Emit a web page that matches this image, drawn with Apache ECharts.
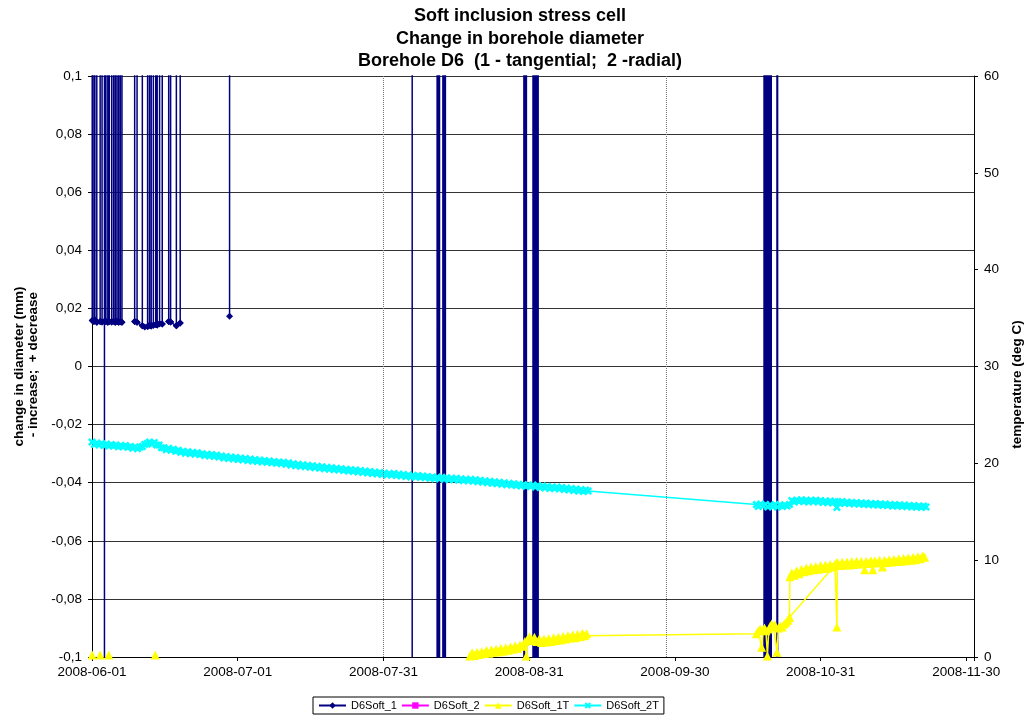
<!DOCTYPE html>
<html><head><meta charset="utf-8">
<script src="https://cdn.jsdelivr.net/npm/echarts@6/dist/echarts.min.js"></script>
<style>html,body{margin:0;padding:0;background:#fff}#c{width:1027px;height:720px}</style>
</head><body><div id="c"></div>
<script>
// x values: days since 2008-06-01
const xTickLabels = ['2008-06-01','2008-07-01','2008-07-31','2008-08-31','2008-09-30','2008-10-31','2008-11-30'];
const leftTickLabels = ['-0,1','-0,08','-0,06','-0,04','-0,02','0','0,02','0,04','0,06','0,08','0,1'];
const rightTickLabels = ['0','10','20','30','40','50','60'];
const annotationDays = [60.8, 119.8];

// D6Soft_1 (mm): out-of-range readings drawn as spikes beyond the axis
const d6Soft1 = [
 [0.05,0.0158],[0.05,9],[0.05,0.0158],
 [0.4,0.0155],[0.4,9],[0.4,0.0155],
 [0.6,0.016],[0.6,9],[0.6,0.016],
 [1.0,0.0152],[1.0,9],[1.0,0.0152],
 [1.7,0.0155],[1.7,9],[1.7,0.0155],
 [2.1,0.0153],[2.1,9],[2.1,0.0153],
 [2.6,0.0155],[2.6,-9],[2.6,0.0155],
 [2.9,0.0155],[2.9,9],[2.9,0.0155],
 [3.3,0.0152],[3.3,9],[3.3,0.0152],
 [3.6,0.0155],[3.6,9],[3.6,0.0155],
 [4.1,0.0153],[4.1,9],[4.1,0.0153],
 [4.5,0.0156],[4.5,9],[4.5,0.0156],
 [4.85,0.0152],[4.85,9],[4.85,0.0152],
 [5.2,0.0155],[5.2,9],[5.2,0.0155],
 [5.55,0.0152],[5.55,9],[5.55,0.0152],
 [5.9,0.0154],[5.9,9],[5.9,0.0154],
 [6.25,0.0152],[6.25,9],[6.25,0.0152],
 [7.5,null],
 [8.9,0.0155],[8.9,9],[8.9,0.0155],
 [9.4,0.0152],[9.4,9],[9.4,0.0152],
 [10.5,0.0140],[10.5,9],[10.5,0.0140],
 [11.0,0.0136],
 [11.6,0.0138],[11.6,9],[11.6,0.0138],
 [12.0,0.0142],[12.0,9],[12.0,0.0142],
 [12.35,0.0139],[12.35,9],[12.35,0.0139],
 [12.8,0.0142],[12.8,9],[12.8,0.0142],
 [13.3,0.0145],[13.3,9],[13.3,0.0145],
 [13.6,0.0143],[13.6,9],[13.6,0.0143],
 [14.1,0.0147],[14.1,9],[14.1,0.0147],
 [14.65,0.0146],[14.65,9],[14.65,0.0146],
 [15.3,null],
 [16.0,0.0155],[16.0,9],[16.0,0.0155],
 [16.4,0.0153],[16.4,9],[16.4,0.0153],
 [17.6,0.0140],[17.6,9],[17.6,0.0140],
 [18.4,0.0150],[18.4,9],[18.4,0.0150],
 [20,null],
 [28.7,9],[28.7,0.0173],
 [30,null],
 [66.8,9],[66.8,-9],
 [72.0,-9],[72.0,9],[72.2,9],[72.2,-9],[72.4,-9],[72.4,9],[72.6,9],[72.6,-9],
 [73.2,-9],[73.2,9],[73.4,9],[73.4,-9],[73.6,-9],[73.6,9],[73.85,9],[73.85,-9],
 [90.1,-9],[90.1,9],[90.3,9],[90.3,-9],[90.5,-9],[90.5,9],[90.75,9],[90.75,-9],
 [92.0,-9],[92.0,9],[92.2,9],[92.2,-9],[92.4,-9],[92.4,9],[92.6,9],[92.6,-9],[92.8,-9],[92.8,9],[93.0,9],[93.0,-9],[93.15,-9],[93.15,9],
 [140.2,9],[140.2,-9],[140.4,-9],[140.4,9],[140.6,9],[140.6,-9],
 [141.0,-9],[141.0,9],[141.2,9],[141.2,-9],[141.4,-9],[141.4,9],[141.6,9],[141.6,-9],[141.8,-9],[141.8,9],
 [142.9,9],[142.9,-9],[143.15,-9],[143.15,9]
];

const d6Soft2 = [];

// D6Soft_1T (deg C)
const d6Soft1T = [
 [0.04,0.2],[0.8,null],[1.7,0.2],[2.5,null],[3.5,0.2],[5,null],[13.2,0.2],[20,null],
 [78.8,0.1],[79.3,0.45],[79.8,0.15],[80.3,0.5],[80.8,0.25],[81.3,0.55],[81.8,0.35],[82.3,0.7],[82.8,0.4],
 [83.3,0.75],[83.8,0.5],[84.3,0.8],[84.8,0.55],[85.3,0.9],[85.8,0.6],[86.3,0.95],[86.8,0.7],[87.3,1.05],
 [87.8,0.8],[88.3,1.15],[88.8,0.9],[89.3,1.25],[89.8,1.1],[90.3,1.6],[90.6,0.1],[90.8,1.8],[91.3,2.1],
 [91.8,1.7],[92.3,2.05],[92.8,1.6],[93.3,1.85],[93.8,1.5],[94.3,1.85],[94.8,1.55],[95.3,1.9],[95.8,1.6],
 [96.3,2.0],[96.8,1.7],[97.3,2.05],[97.8,1.75],[98.3,2.15],[98.8,1.85],[99.3,2.2],[99.8,1.95],[100.3,2.3],
 [100.8,2.0],[101.3,2.35],[101.8,2.1],[102.3,2.45],[102.8,2.2],[103.2,2.4],
 [138.6,2.4],[139.0,2.7],[139.4,2.9],[139.7,1.0],[140.0,2.8],[140.3,3.0],[140.6,2.7],[140.9,0.1],[141.2,2.9],
 [141.5,3.2],[141.8,3.4],[142.2,3.1],[142.5,3.3],[142.9,0.5],[143.2,3.0],[143.6,3.2],[144.0,3.1],[144.4,3.4],
 [144.8,3.6],[145.2,3.8],[145.5,4.1],
 [145.6,8.3],[146.0,8.7],[146.5,8.45],[147.0,8.9],[147.5,8.6],[148.0,9.05],[148.5,8.8],[149.0,9.2],[149.5,8.9],
 [150.0,9.3],[150.5,9.0],[151.0,9.35],[151.5,9.05],[152.0,9.45],[152.5,9.15],[153.0,9.5],[153.5,9.2],[154.0,9.55],
 [154.5,9.3],[155.0,9.6],[155.3,9.5],[155.4,3.1],[155.5,9.75],[156.0,9.45],[156.5,9.8],[157.0,9.5],[157.5,9.8],
 [158.0,9.5],[158.5,9.85],[159.0,9.55],[159.5,9.9],[160.0,9.6],[160.5,9.9],[161.2,9.0],[161.5,9.9],[162.0,9.65],
 [162.5,9.95],[162.9,9.0],[163.3,9.95],[163.8,9.7],[164.3,10.0],[164.9,9.3],[165.3,10.0],[165.8,9.75],[166.3,10.05],
 [166.8,9.8],[167.3,10.1],[167.8,9.85],[168.3,10.15],[168.8,9.9],[169.3,10.2],[169.8,9.95],[170.3,10.25],
 [170.8,10.0],[171.3,10.3],[171.8,10.05],[172.3,10.35],[172.8,10.15],[173.3,10.45],[173.7,10.3],
 [174,null],[145.5,4.1],[155.4,9.7]
];

// D6Soft_2T (deg C)
const d6Soft2T = [
 [0,22.2],[0.5,21.95],[1,22.1],[1.5,21.9],[2,22.05],[2.5,21.85],[3,22.0],[3.5,21.8],[4,21.95],[4.5,21.8],
 [5,21.9],[5.5,21.7],[6,21.85],[6.5,21.7],[7,21.85],[7.5,21.65],[8,21.75],[8.5,21.55],[9,21.7],[9.5,21.5],
 [10,21.65],[10.5,21.75],[11,21.95],[11.5,22.05],[12,22.2],[12.5,22.0],[13,22.15],[13.5,21.9],[14,21.9],[14.5,21.6],
 [15,21.6],[15.5,21.4],[16,21.55],[16.5,21.35],[17,21.45],[17.5,21.25],[18,21.35],[18.5,21.15],[19,21.25],[19.5,21.05],
 [20,21.2],[20.5,21.0],[21,21.15],[21.5,20.95],[22,21.1],[22.5,20.9],[23,21.0],[23.5,20.8],[24,20.95],[24.5,20.75],
 [25,20.9],[25.5,20.7],[26,20.85],[26.5,20.65],[27,20.75],[27.5,20.55],[28,20.7],[28.5,20.5],[29,20.65],[29.5,20.45],
 [30,20.6],[30.5,20.4],[31,20.55],[31.5,20.35],[32,20.5],[32.5,20.3],[33,20.45],[33.5,20.25],[34,20.4],[34.5,20.2],
 [35,20.35],[35.5,20.15],[36,20.3],[36.5,20.1],[37,20.25],[37.5,20.05],[38,20.2],[38.5,20.0],[39,20.15],[39.5,19.95],
 [40,20.1],[40.5,19.9],[41,20.05],[41.5,19.8],[42,19.95],[42.5,19.75],[43,19.9],[43.5,19.7],[44,19.85],[44.5,19.65],
 [45,19.8],[45.5,19.6],[46,19.75],[46.5,19.55],[47,19.7],[47.5,19.5],[48,19.65],[48.5,19.45],[49,19.6],[49.5,19.4],
 [50,19.55],[50.5,19.35],[51,19.5],[51.5,19.3],[52,19.45],[52.5,19.25],[53,19.4],[53.5,19.2],[54,19.35],[54.5,19.15],
 [55,19.3],[55.5,19.1],[56,19.25],[56.5,19.05],[57,19.2],[57.5,19.0],[58,19.15],[58.5,18.95],[59,19.1],[59.5,18.9],
 [60,19.05],[60.5,18.85],[61,19.0],[61.5,18.8],[62,18.95],[62.5,18.8],[63,18.95],[63.5,18.75],[64,18.9],[64.5,18.7],
 [65,18.85],[65.5,18.65],[66,18.8],[66.5,18.6],[67,18.75],[67.5,18.6],[68,18.75],[68.5,18.55],[69,18.7],[69.5,18.5],
 [70,18.65],[70.5,18.45],[71,18.6],[71.5,18.4],[72,18.55],[72.5,18.4],[73,18.55],[73.5,18.35],[74,18.5],[74.5,18.3],
 [75,18.45],[75.5,18.3],[76,18.45],[76.5,18.25],[77,18.4],[77.5,18.2],[78,18.35],[78.5,18.2],[79,18.35],[79.5,18.15],
 [80,18.3],[80.5,18.1],[81,18.25],[81.5,18.05],[82,18.2],[82.5,18.0],[83,18.15],[83.5,17.95],[84,18.1],[84.5,17.9],
 [85,18.05],[85.5,17.85],[86,18.0],[86.5,17.8],[87,17.95],[87.5,17.75],[88,17.9],[88.5,17.7],[89,17.85],[89.5,17.65],
 [90,17.8],[90.5,17.6],[91,17.75],[91.5,17.6],[92,17.75],[92.5,17.55],[93,17.7],[93.5,17.5],[94,17.65],[94.5,17.45],
 [95,17.6],[95.5,17.4],[96,17.55],[96.5,17.4],[97,17.55],[97.5,17.35],[98,17.5],[98.5,17.3],[99,17.45],[99.5,17.25],
 [100,17.4],[100.5,17.2],[101,17.35],[101.5,17.15],[102,17.3],[102.5,17.1],[103,17.25],[103.5,17.15],
 [138.6,15.75],[139,15.55],[139.5,15.8],[140,15.6],[140.5,15.75],[141,15.5],[141.5,15.7],[142,15.55],[142.5,15.75],
 [143,15.5],[143.5,15.7],[144,15.55],[144.5,15.7],[145,15.6],[145.5,15.75],[146,16.15],[146.5,16.0],[147,16.2],
 [147.5,16.05],[148,16.25],[148.5,16.05],[149,16.2],[149.5,16.0],[150,16.2],[150.5,16.05],[151,16.2],[151.5,16.0],
 [152,16.15],[152.5,15.95],[153,16.1],[153.5,15.95],[154,16.1],[154.5,15.9],[155,16.05],[155.4,15.45],[155.6,16.0],
 [156,15.9],[156.5,16.05],[157,15.85],[157.5,16.0],[158,15.85],[158.5,15.95],[159,15.8],[159.5,15.95],[160,15.8],
 [160.5,15.9],[161,15.75],[161.5,15.9],[162,15.75],[162.5,15.85],[163,15.7],[163.5,15.85],[164,15.7],[164.5,15.8],
 [165,15.65],[165.5,15.8],[166,15.65],[166.5,15.75],[167,15.6],[167.5,15.75],[168,15.6],[168.5,15.7],[169,15.55],
 [169.5,15.7],[170,15.55],[170.5,15.65],[171,15.5],[171.5,15.65],[172,15.5],[172.5,15.6],[173,15.45],[173.5,15.6],[174,15.5]
];

const FONT = 'Liberation Sans, Arial, sans-serif';
const xInterval = 30.4;
const xSymbol = 'path://M0,2.2L2.2,0L5,2.8L7.8,0L10,2.2L7.2,5L10,7.8L7.8,10L5,7.2L2.2,10L0,7.8L2.8,5Z';

const chart = echarts.init(document.getElementById('c'), null, {renderer: 'canvas'});
chart.setOption({
  backgroundColor: '#ffffff',
  animation: false,
  title: {
    text: 'Soft inclusion stress cell\nChange in borehole diameter\nBorehole D6  (1 - tangential;  2 -radial)',
    left: 520, top: 5, textAlign: 'center', padding: 0,
    textStyle: {fontFamily: FONT, fontSize: 18, fontWeight: 'bold', color: '#000', lineHeight: 22.5}
  },
  legend: {
    left: 313, top: 697, padding: [3, 5], itemGap: 4, itemWidth: 27, itemHeight: 8,
    borderColor: '#000', borderWidth: 1,
    textStyle: {fontFamily: FONT, fontSize: 11, color: '#000'},
    data: ['D6Soft_1', 'D6Soft_2', 'D6Soft_1T', 'D6Soft_2T']
  },
  grid: {left: 92, right: 53, top: 76, bottom: 63, containLabel: false, outerBoundsMode: 'none'},
  xAxis: [{
    type: 'value', min: 0, max: 184, interval: xInterval,
    axisLine: {onZero: false, lineStyle: {color: '#000', width: 1}},
    axisTick: {show: true, length: 4, lineStyle: {color: '#000'}},
    splitLine: {show: false},
    axisLabel: {
      fontFamily: FONT, fontSize: 13.5, color: '#000', margin: 8,
      formatter: function (v) {
        const i = Math.round(v / xInterval);
        return (Math.abs(v - i * xInterval) < 0.01 && xTickLabels[i]) ? xTickLabels[i] : '';
      }
    }
  }],
  yAxis: [{
    type: 'value', min: -0.1, max: 0.1, interval: 0.02, position: 'left',
    name: 'change in diameter (mm)\n - increase;  + decrease',
    nameLocation: 'middle', nameRotate: 90, nameGap: 48,
    nameTextStyle: {fontFamily: FONT, fontSize: 13.5, fontWeight: 'bold', color: '#000', lineHeight: 14},
    axisLine: {show: true, onZero: false, lineStyle: {color: '#000'}},
    axisTick: {show: true, length: 4, lineStyle: {color: '#000'}},
    splitLine: {show: true, lineStyle: {color: '#333', width: 1}},
    axisLabel: {
      fontFamily: FONT, fontSize: 13.5, color: '#000', margin: 10,
      formatter: function (v) { return leftTickLabels[Math.round((v + 0.1) / 0.02)] || ''; }
    }
  }, {
    type: 'value', min: 0, max: 60, interval: 10, position: 'right',
    name: 'temperature (deg C)',
    nameLocation: 'middle', nameRotate: 90, nameGap: 36,
    nameTextStyle: {fontFamily: FONT, fontSize: 13.5, fontWeight: 'bold', color: '#000', padding: [0, 36, 0, 0]},
    axisLine: {show: true, onZero: false, lineStyle: {color: '#000'}},
    axisTick: {show: true, length: 4, lineStyle: {color: '#000'}},
    splitLine: {show: false},
    axisLabel: {
      fontFamily: FONT, fontSize: 13.5, color: '#000', margin: 10,
      formatter: function (v) { return rightTickLabels[Math.round(v / 10)] || ''; }
    }
  }],
  series: [{
    name: 'D6Soft_1', type: 'line', yAxisIndex: 0, data: d6Soft1,
    symbol: 'diamond', symbolSize: 7, showSymbol: true, showAllSymbol: true,
    connectNulls: false, clip: true,
    itemStyle: {color: '#000080'}, lineStyle: {color: '#000080', width: 1.5},
    markLine: {
      silent: true, symbol: ['none', 'none'], label: {show: false},
      lineStyle: {type: 'dotted', color: '#777', width: 1},
      data: annotationDays.map(d => ({xAxis: d}))
    }
  }, {
    name: 'D6Soft_2', type: 'line', yAxisIndex: 0, data: d6Soft2,
    symbol: 'rect', symbolSize: 6, itemStyle: {color: '#FF00FF'}, lineStyle: {color: '#FF00FF', width: 1.5}
  }, {
    name: 'D6Soft_1T', type: 'line', yAxisIndex: 1, data: d6Soft1T,
    symbol: 'triangle', symbolSize: 9, showSymbol: true, showAllSymbol: true,
    connectNulls: false, clip: true,
    itemStyle: {color: '#FFFF00'}, lineStyle: {color: '#FFFF00', width: 1.5}
  }, {
    name: 'D6Soft_2T', type: 'line', yAxisIndex: 1, data: d6Soft2T,
    symbol: xSymbol, symbolSize: 8, showSymbol: true, showAllSymbol: true,
    connectNulls: false, clip: true,
    itemStyle: {color: '#00FFFF'}, lineStyle: {color: '#00FFFF', width: 1.5}
  }]
});
</script>
</body></html>
